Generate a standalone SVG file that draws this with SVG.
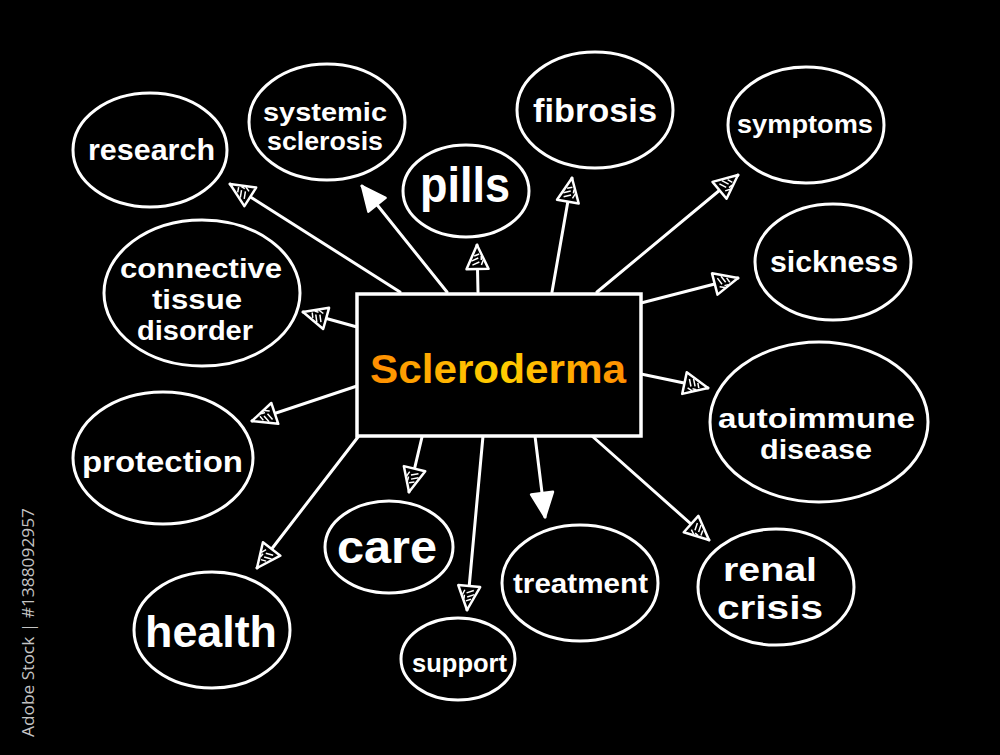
<svg xmlns="http://www.w3.org/2000/svg" width="1000" height="755" viewBox="0 0 1000 755">
<defs>
<style>
.bg{fill:#000}
.el{fill:#000;stroke:#fff;stroke-width:3}
.box{fill:#000;stroke:#fff;stroke-width:3.5}
.ln{stroke:#fff;stroke-width:3;fill:none;stroke-linecap:round}
.t{font-family:"Liberation Sans",Arial,sans-serif;font-weight:bold;fill:#fff}
.ln.o{marker-end:url(#ah)}
.ln.s{marker-end:url(#as)}
</style>
<marker id="ah" viewBox="-3 -14 30 28" refX="24" refY="0" markerWidth="30" markerHeight="28" markerUnits="userSpaceOnUse" orient="auto">
<path d="M0,-11 L24,0 L0,11 Z" fill="#000" stroke="#fff" stroke-width="2.5" stroke-linejoin="round"/>
<path d="M4,-5 L7,2 M8,-6 L11,1 M4,4 L9,6 M13,-3 L15,2 M9,4 L13,4" stroke="#fff" stroke-width="1.5" fill="none"/>
</marker>
<marker id="as" viewBox="-3 -14 30 28" refX="24" refY="0" markerWidth="30" markerHeight="28" markerUnits="userSpaceOnUse" orient="auto">
<path d="M0,-11 L24,0 L0,11 Z" fill="#fff" stroke="#fff" stroke-width="2.5" stroke-linejoin="round"/>
</marker>
<linearGradient id="og" gradientUnits="userSpaceOnUse" x1="370" y1="0" x2="626" y2="0">
<stop offset="0" stop-color="#ff8c00"/>
<stop offset="0.5" stop-color="#ffcf00"/>
<stop offset="1" stop-color="#ff8f00"/>
</linearGradient>
</defs>
<rect class="bg" x="0" y="0" width="1000" height="755"/>

<g id="connectors">
<line class="ln o" x1="400" y1="292" x2="230" y2="184"/>
<line class="ln s" x1="447" y1="292" x2="362" y2="186"/>
<line class="ln o" x1="478" y1="292" x2="477" y2="245"/>
<line class="ln o" x1="552" y1="292" x2="572" y2="178"/>
<line class="ln o" x1="597" y1="292" x2="738" y2="175"/>
<line class="ln o" x1="641" y1="303" x2="738" y2="278"/>
<line class="ln o" x1="357" y1="327" x2="303" y2="312"/>
<line class="ln o" x1="641" y1="374" x2="708" y2="388"/>
<line class="ln o" x1="357" y1="386" x2="252" y2="421"/>
<line class="ln o" x1="358" y1="437" x2="257" y2="568"/>
<line class="ln o" x1="422" y1="437" x2="409" y2="492"/>
<line class="ln o" x1="483" y1="436" x2="467" y2="610"/>
<line class="ln s" x1="535" y1="436" x2="545" y2="517"/>
<line class="ln o" x1="592" y1="436" x2="709" y2="540"/>
</g>

<g id="center">
<rect class="box" x="357" y="294" width="284" height="142"/>
<text class="t" x="370" y="383" font-size="40" textLength="256" lengthAdjust="spacingAndGlyphs" style="fill:url(#og)">Scleroderma</text>
</g>

<g id="n-research">
<ellipse class="el" cx="150" cy="150" rx="77" ry="57"/>
<text class="t" x="88" y="160" font-size="29" textLength="127" lengthAdjust="spacingAndGlyphs">research</text>
</g>
<g id="n-systemic">
<ellipse class="el" cx="327" cy="122" rx="78" ry="58"/>
<text class="t" x="263" y="121" font-size="25" textLength="124" lengthAdjust="spacingAndGlyphs">systemic</text>
<text class="t" x="267" y="150" font-size="25" textLength="116" lengthAdjust="spacingAndGlyphs">sclerosis</text>
</g>
<g id="n-pills">
<ellipse class="el" cx="466" cy="191" rx="63" ry="46"/>
<text class="t" x="420" y="202" font-size="50" textLength="90" lengthAdjust="spacingAndGlyphs">pills</text>
</g>
<g id="n-fibrosis">
<ellipse class="el" cx="595" cy="110" rx="78" ry="58"/>
<text class="t" x="533" y="122" font-size="33" textLength="124" lengthAdjust="spacingAndGlyphs">fibrosis</text>
</g>
<g id="n-symptoms">
<ellipse class="el" cx="806" cy="125" rx="78" ry="58"/>
<text class="t" x="737" y="133" font-size="26" textLength="136" lengthAdjust="spacingAndGlyphs">symptoms</text>
</g>
<g id="n-sickness">
<ellipse class="el" cx="833" cy="262" rx="78" ry="58"/>
<text class="t" x="770" y="272" font-size="30" textLength="128" lengthAdjust="spacingAndGlyphs">sickness</text>
</g>
<g id="n-connective">
<ellipse class="el" cx="202" cy="293" rx="98" ry="73"/>
<text class="t" x="120" y="278" font-size="27" textLength="162" lengthAdjust="spacingAndGlyphs">connective</text>
<text class="t" x="152" y="309" font-size="27" textLength="90" lengthAdjust="spacingAndGlyphs">tissue</text>
<text class="t" x="137" y="340" font-size="27" textLength="116" lengthAdjust="spacingAndGlyphs">disorder</text>
</g>
<g id="n-autoimmune">
<ellipse class="el" cx="819" cy="422" rx="109" ry="80"/>
<text class="t" x="718" y="428" font-size="27" textLength="197" lengthAdjust="spacingAndGlyphs">autoimmune</text>
<text class="t" x="760" y="459" font-size="27" textLength="112" lengthAdjust="spacingAndGlyphs">disease</text>
</g>
<g id="n-protection">
<ellipse class="el" cx="163" cy="458" rx="90" ry="66"/>
<text class="t" x="82" y="472" font-size="30" textLength="161" lengthAdjust="spacingAndGlyphs">protection</text>
</g>
<g id="n-care">
<ellipse class="el" cx="389" cy="547" rx="64" ry="46"/>
<text class="t" x="337" y="563" font-size="46" textLength="100" lengthAdjust="spacingAndGlyphs">care</text>
</g>
<g id="n-health">
<ellipse class="el" cx="212" cy="630" rx="78" ry="58"/>
<text class="t" x="145" y="647" font-size="44" textLength="132" lengthAdjust="spacingAndGlyphs">health</text>
</g>
<g id="n-support">
<ellipse class="el" cx="458" cy="659" rx="57" ry="41"/>
<text class="t" x="412" y="672" font-size="25" textLength="95" lengthAdjust="spacingAndGlyphs">support</text>
</g>
<g id="n-treatment">
<ellipse class="el" cx="580" cy="583" rx="78" ry="58"/>
<text class="t" x="513" y="593" font-size="28" textLength="135" lengthAdjust="spacingAndGlyphs">treatment</text>
</g>
<g id="n-renal">
<ellipse class="el" cx="776" cy="587" rx="78" ry="58"/>
<text class="t" x="723" y="581" font-size="33" textLength="94" lengthAdjust="spacingAndGlyphs">renal</text>
<text class="t" x="717" y="619" font-size="33" textLength="106" lengthAdjust="spacingAndGlyphs">crisis</text>
</g>

<text x="34" y="737" transform="rotate(-90 34 737)" font-family="'Open Sans','Liberation Sans',sans-serif" font-size="17" fill="#c4c4c4" textLength="229" lengthAdjust="spacingAndGlyphs">Adobe Stock | #1388092957</text>
</svg>
